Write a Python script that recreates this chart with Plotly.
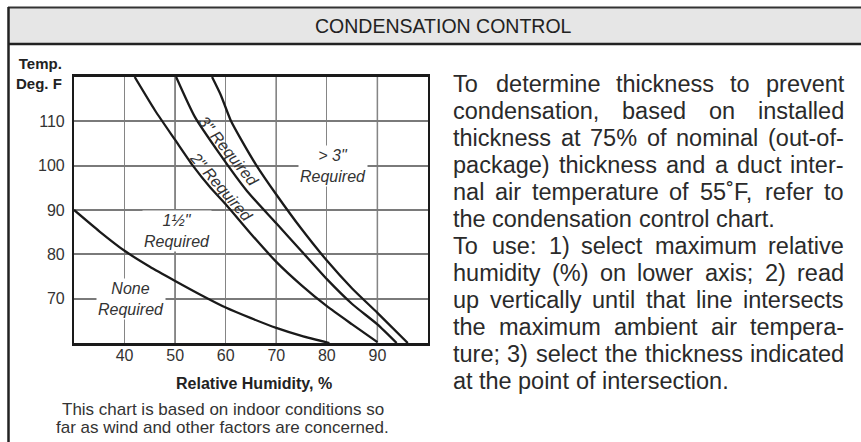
import plotly.graph_objects as go

# ---------------- data ----------------
rh_none = [30, 35, 40, 45, 50, 55, 60, 65, 70, 75, 80.5]
temp_none = [90, 85.2, 80.8, 77.2, 74, 70.9, 68, 65.6, 63.4, 61.6, 60]

rh_15 = [42, 46, 50, 53.5, 57, 60, 65, 70, 75, 80, 85, 90]
temp_15 = [120, 112.5, 105.8, 100, 95, 91.3, 84.6, 78.3, 73, 68.3, 64.2, 60.2]

rh_2 = [50.2, 53.9, 58.6, 64.2, 70, 75, 80, 85, 90, 93.8]
temp_2 = [120, 111, 103, 94.3, 87, 80.7, 74.4, 68.8, 64.2, 60]

rh_3 = [57.3, 59, 61, 63, 66, 70, 75, 80, 85, 90, 96]
temp_3 = [120, 116, 110.2, 106, 100.2, 93.5, 85.7, 78.6, 72.3, 66.8, 60]

x_tickvals = [40, 50, 60, 70, 80, 90]
x_ticktext = ["40", "50", "60", "70", "80", "90"]
y_tickvals = [70, 80, 90, 100, 110]
y_ticktext = ["70", "80", "90", "100", "110"]
dark_grid_x = [50, 70, 90]

title_text = "CONDENSATION CONTROL"
x_title = "Relative Humidity, %"
y_title = "Temp.<br>Deg. F"
footnote_lines = ["This chart is based on indoor conditions so",
                  "far as wind and other factors are concerned."]
para_lines = [
    "To determine thickness to prevent",
    "condensation, based on installed",
    "thickness at 75% of nominal (out-of-",
    "package) thickness and a duct inter-",
    "nal air temperature of 55˚F, refer to",
    "the condensation control chart.",
    "To use: 1) select maximum relative",
    "humidity (%) on lower axis; 2) read",
    "up vertically until that line intersects",
    "the maximum ambient air tempera-",
    "ture; 3) select the thickness indicated",
    "at the point of intersection.",
]
para_justified = [True, True, True, True, True, False,
                  True, True, True, True, True, False]

# ---------------- layout geometry ----------------
W_FIG, H_FIG = 861, 442
L, T, R, B = 74, 77, 428, 343
PW, PH = R - L, B - T


def px(xp):
    return (xp - L) / PW


def py(yp):
    return (B - yp) / PH


INK = "#222222"
FONT = "Liberation Sans, Arial, sans-serif"

fig = go.Figure()

for xs, ys in [(rh_none, temp_none), (rh_15, temp_15), (rh_2, temp_2), (rh_3, temp_3)]:
    fig.add_trace(go.Scatter(x=xs, y=ys, mode="lines",
                             line=dict(color="#1a1a1a", width=2.3, shape="spline", smoothing=0.6),
                             hoverinfo="skip", showlegend=False))

shapes = []
for xv in dark_grid_x:
    shapes.append(dict(type="line", xref="x", yref="paper", x0=xv, x1=xv, y0=0, y1=1,
                       line=dict(color="#2b2b2b", width=1.3), layer="between"))

# title bar & frame
shapes.append(dict(type="rect", xref="paper", yref="paper", x0=px(8), x1=px(875), y0=py(44), y1=py(7),
                   fillcolor="#e6e6e6", line=dict(width=0), layer="above"))
shapes.append(dict(type="line", xref="paper", yref="paper", x0=px(8), x1=px(875), y0=py(7.5), y1=py(7.5),
                   line=dict(color="#333", width=2), layer="above"))
shapes.append(dict(type="line", xref="paper", yref="paper", x0=px(8), x1=px(875), y0=py(44), y1=py(44),
                   line=dict(color="#222", width=2.5), layer="above"))
shapes.append(dict(type="line", xref="paper", yref="paper", x0=px(8.5), x1=px(8.5), y0=py(7), y1=py(445),
                   line=dict(color="#222", width=2.5), layer="above"))

ann = []
ann.append(dict(text=title_text, x=px(443), y=py(26), xref="paper", yref="paper", showarrow=False,
                xanchor="center", yanchor="middle",
                font=dict(family=FONT, size=19.5, color=INK)))
ann.append(dict(text=y_title, x=px(64), y=py(73.5), xref="paper", yref="paper", showarrow=False,
                xanchor="right", yanchor="middle", align="right",
                font=dict(family=FONT, size=15, color=INK, weight="bold")))
ann.append(dict(text=x_title, x=px(253.5), y=py(383), xref="paper", yref="paper", showarrow=False,
                xanchor="center", yanchor="middle",
                font=dict(family=FONT, size=16, color=INK, weight="bold")))
for i, line in enumerate(footnote_lines):
    ann.append(dict(text=line, x=px(222.5), y=py(409 + 18.5 * i), xref="paper", yref="paper",
                    showarrow=False, xanchor="center", yanchor="middle",
                    font=dict(family=FONT, size=17, color="#333")))

# region labels
lab_font = dict(family=FONT, size=16, color="#333", style="italic")
ann.append(dict(text="None<br>Required", x=41.2, y=70, xref="x", yref="y", showarrow=False,
                font=lab_font, bgcolor="white", borderpad=1))
ann.append(dict(text="1½\"<br>Required", x=50.3, y=85.3, xref="x", yref="y", showarrow=False,
                font=lab_font, bgcolor="white", borderpad=1))
ann.append(dict(text="> 3\"<br>Required", x=81.2, y=100, xref="x", yref="y", showarrow=False,
                font=lab_font, bgcolor="white", borderpad=1))
ann.append(dict(text="3\" Required", x=60.6, y=103.2, xref="x", yref="y", showarrow=False,
                textangle=51, font=lab_font))
ann.append(dict(text="2\" Required", x=59.0, y=95.2, xref="x", yref="y", showarrow=False,
                textangle=49, font=lab_font))

# justified paragraph (Liberation Sans == Arial metrics)
AW = {' ': 278, '"': 355, '%': 889, '(': 333, ')': 333, ',': 278, '-': 333, '.': 278, ':': 278,
      ';': 278, '˚': 333, 'T': 611, 'F': 611,
      'a': 556, 'b': 556, 'c': 500, 'd': 556, 'e': 556, 'f': 278, 'g': 556, 'h': 556, 'i': 222,
      'j': 222, 'k': 500, 'l': 222, 'm': 833, 'n': 556, 'o': 556, 'p': 556, 'q': 556, 'r': 333,
      's': 500, 't': 278, 'u': 556, 'v': 500, 'w': 722, 'x': 500, 'y': 500, 'z': 500}


def em(s):
    return sum(AW.get(c, 556) for c in s) / 1000.0


X0, X1 = 451, 842
COLW = X1 - X0
fs = min(COLW / em(l) for l, j in zip(para_lines, para_justified) if j) * 0.99
fs = round(fs, 1)
y_first, dy = 84, 27.0
for i, (line, just) in enumerate(zip(para_lines, para_justified)):
    words = line.split(" ")
    widths = [em(w) * fs for w in words]
    if just and len(words) > 1:
        gap = (COLW - sum(widths)) / (len(words) - 1)
    else:
        gap = em(" ") * fs
    xcur = X0
    for w, wd in zip(words, widths):
        ann.append(dict(text=w, x=px(xcur), y=py(y_first + dy * i), xref="paper", yref="paper",
                        showarrow=False, xanchor="left", yanchor="middle",
                        font=dict(family=FONT, size=fs, color="#2a2a2a")))
        xcur += wd + gap

fig.update_layout(
    width=W_FIG, height=H_FIG,
    margin=dict(l=L, r=W_FIG - R, t=T, b=H_FIG - B, pad=0),
    paper_bgcolor="white", plot_bgcolor="white",
    showlegend=False, shapes=shapes, annotations=ann,
    font=dict(family=FONT, color=INK),
)
fig.update_xaxes(range=[30, 100], tickvals=x_tickvals, ticktext=x_ticktext,
                 showgrid=True, gridcolor="#858585", gridwidth=1.4,
                 showline=True, mirror=True, linecolor="#1a1a1a", linewidth=2.5,
                 ticks="", ticklabelstandoff=-4,
                 tickfont=dict(size=16, color="#333", family=FONT), zeroline=False)
fig.update_yaxes(range=[60, 120], tickvals=y_tickvals, ticktext=y_ticktext,
                 showgrid=True, gridcolor="#7a7a7a", gridwidth=1.5,
                 showline=True, mirror=True, linecolor="#1a1a1a", linewidth=2.2,
                 ticks="", ticklabelstandoff=4, tickfont=dict(size=16, color="#333", family=FONT),
                 zeroline=False)

fig.write_html("out.html", config={"displayModeBar": False},
               post_script="document.body.style.margin='0px';")
